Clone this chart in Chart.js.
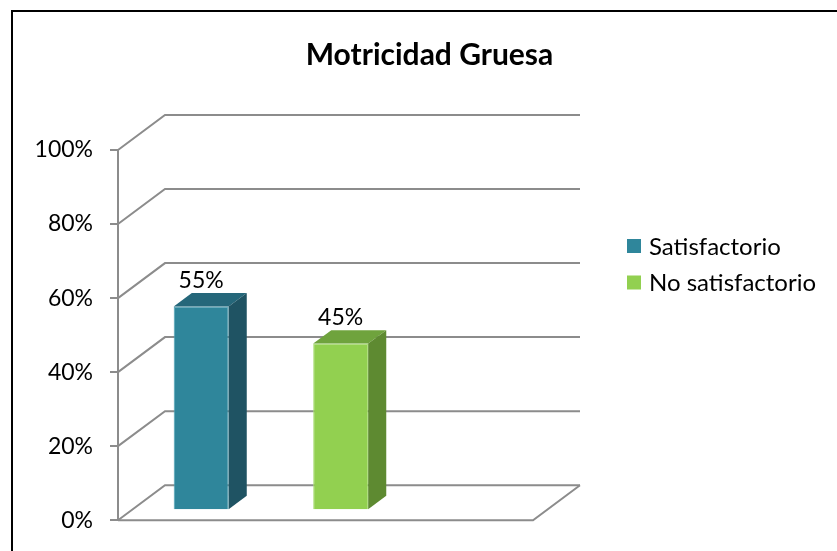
<!DOCTYPE html>
<html>
<head>
<meta charset="utf-8">
<script src="https://cdn.jsdelivr.net/npm/chart.js@4.4.1/dist/chart.umd.min.js"></script>
<style>
  html, body { margin: 0; padding: 0; background: #fff; overflow: hidden; }
  #frame { position: absolute; left: 11px; top: 10px; width: 900px; height: 600px; border: 2px solid #000; }
  #wrap { position: absolute; left: 0; top: 0; width: 837px; height: 551px; }
</style>
</head>
<body>
<div id="frame"></div>
<div id="wrap"><canvas id="myChart"></canvas></div>
<script>
// DATA
const categories = ["Motricidad Gruesa"];
const seriesNames = ["Satisfactorio", "No satisfactorio"];
const satisfactorio = [55];
const noSatisfactorio = [45];
const tickLabels = ["0%", "20%", "40%", "60%", "80%", "100%"];

const FONT = "Lato";
const GRID = "#8c8c8c";

// 3D look: depth of the floor, where the bars sit in it and how deep they are
const DEPTH = { x: 47, y: -35 };
const BAR_POS = 10 / 35;
const BAR_DEPTH = 0.385;
const FLOOR_W = 415;

// legend box (drawn next to the plot, like the excel one)
const LEGEND = { x: 627, y: 246, step: 36.5, box: 14, gap: 8, size: 24 };

const threeD = {
    id: "threeD",
    beforeDatasetsDraw(chart) {
        const { ctx, chartArea, scales } = chart;
        const y = scales.y;
        const left = chartArea.left;
        const right = left + FLOOR_W;
        ctx.save();
        ctx.strokeStyle = GRID;
        ctx.lineWidth = 2;
        y.ticks.forEach(function (t) {
            const py = y.getPixelForValue(t.value);
            ctx.beginPath();
            ctx.moveTo(left, py);
            ctx.lineTo(left + DEPTH.x, py + DEPTH.y);
            ctx.lineTo(right + DEPTH.x, py + DEPTH.y);
            ctx.stroke();
        });
        // FLOOR FRONT + RIGHT EDGE
        const p0 = y.getPixelForValue(0);
        ctx.beginPath();
        ctx.moveTo(left, p0);
        ctx.lineTo(right, p0);
        ctx.lineTo(right + DEPTH.x, p0 + DEPTH.y);
        ctx.stroke();
        ctx.restore();
    },
    beforeDatasetDraw(chart) {
        chart.ctx.save();
        chart.ctx.translate(DEPTH.x * BAR_POS, DEPTH.y * BAR_POS);
    },
    afterDatasetDraw(chart, args) {
        const ctx = chart.ctx;
        const ds = chart.data.datasets[args.index];
        const dx = DEPTH.x * BAR_DEPTH, dy = DEPTH.y * BAR_DEPTH;
        args.meta.data.forEach(function (el) {
            const p = el.getProps(["x", "y", "base", "width"], true);
            const l = p.x - p.width / 2, r = p.x + p.width / 2;
            // TOP
            ctx.fillStyle = ds.topColor;
            ctx.beginPath();
            ctx.moveTo(l, p.y);
            ctx.lineTo(r, p.y);
            ctx.lineTo(r + dx, p.y + dy);
            ctx.lineTo(l + dx, p.y + dy);
            ctx.closePath();
            ctx.fill();
            // SIDE
            ctx.fillStyle = ds.sideColor;
            ctx.beginPath();
            ctx.moveTo(r, p.y);
            ctx.lineTo(r + dx, p.y + dy);
            ctx.lineTo(r + dx, p.base + dy);
            ctx.lineTo(r, p.base);
            ctx.closePath();
            ctx.fill();
        });
        ctx.restore();
    },
    afterDatasetsDraw(chart) {
        const ctx = chart.ctx;
        ctx.save();
        ctx.fillStyle = "#000";
        ctx.font = "23px " + FONT;
        ctx.textAlign = "center";
        ctx.textBaseline = "alphabetic";
        chart.data.datasets.forEach(function (ds, i) {
            chart.getDatasetMeta(i).data.forEach(function (el, j) {
                const p = el.getProps(["x", "y"], true);
                const tx = p.x + DEPTH.x * BAR_POS;
                const ty = p.y + DEPTH.y * BAR_POS + DEPTH.y * BAR_DEPTH - 5;
                ctx.fillText(ds.data[j] + "%", tx, ty);
            });
        });
        // LEGEND
        ctx.font = LEGEND.size + "px " + FONT;
        ctx.textAlign = "left";
        ctx.textBaseline = "middle";
        chart.data.datasets.forEach(function (ds, i) {
            const cy = LEGEND.y + i * LEGEND.step;
            ctx.fillStyle = ds.backgroundColor;
            ctx.fillRect(LEGEND.x, cy - LEGEND.box / 2, LEGEND.box, LEGEND.box);
            ctx.fillStyle = "#000";
            ctx.fillText(ds.label, LEGEND.x + LEGEND.box + LEGEND.gap, cy + 1);
        });
        ctx.restore();
    }
};

const ctx1 = document.getElementById("myChart").getContext("2d");
const myChart = new Chart(ctx1, {
    type: "bar",
    data: {
        labels: categories,
        datasets: [
            {
                label: seriesNames[0],
                data: satisfactorio,
                backgroundColor: "#2f869b",
                borderColor: "#4aa3b8",
                borderWidth: 1,
                topColor: "#25677a",
                sideColor: "#1f5363",
                yAxisID: "y",
            },
            {
                label: seriesNames[1],
                data: noSatisfactorio,
                backgroundColor: "#92d050",
                borderColor: "#a9de73",
                borderWidth: 1,
                topColor: "#6fa33d",
                sideColor: "#5e8a31",
                yAxisID: "y",
            },
        ],
    },
    options: {
        responsive: true,
        maintainAspectRatio: false,
        animation: false,
        categoryPercentage: 1,
        barPercentage: 0.394,
        layout: { padding: { left: 30, right: 8, top: 7, bottom: 30 } },
        plugins: {
            title: {
                display: true,
                text: categories[0],
                color: "#000",
                font: { family: FONT, size: 30, weight: "bold", lineHeight: 1.2 },
                padding: { top: 30, bottom: 77 },
            },
            legend: { display: false },
            tooltip: { enabled: false },
        },
        scales: {
            x: { display: false },
            y: {
                min: 0,
                max: 100,
                ticks: {
                    stepSize: 20,
                    color: "#000",
                    padding: 17,
                    font: { family: FONT, size: 23 },
                    callback: function (v, i) { return tickLabels[i]; },
                },
                grid: { drawOnChartArea: false, tickLength: 8, color: GRID, lineWidth: 2 },
                border: { display: true, color: GRID, width: 2 },
                afterFit: function (s) { s.width = 88; },
            },
            // room right of the plot for the back wall and the legend
            gap: {
                type: "linear",
                position: "right",
                grid: { display: false },
                ticks: { display: false },
                border: { display: false },
                afterFit: function (s) { s.width = 432; },
            },
        },
    },
    plugins: [threeD],
});
</script>
</body>
</html>
